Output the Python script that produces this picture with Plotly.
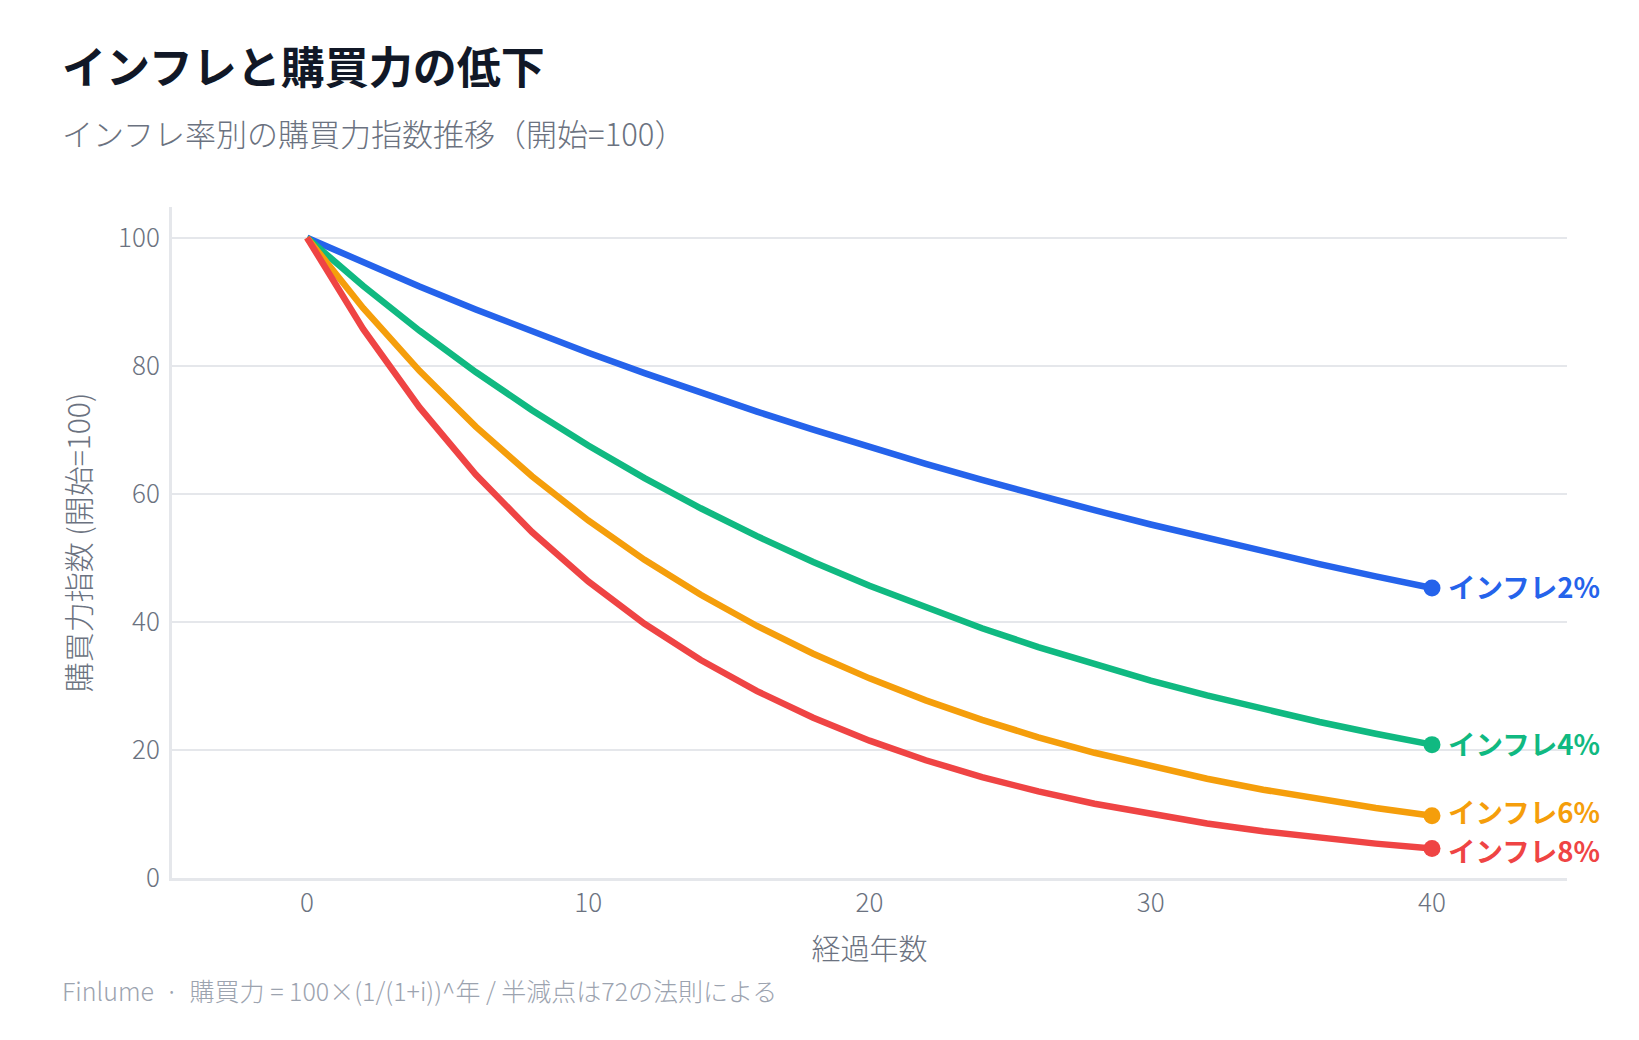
import plotly.graph_objects as go

years = [0, 2, 4, 6, 8, 10, 12, 14, 16, 18, 20, 22, 24, 26, 28, 30, 32, 34, 36, 38, 40]
infl_2 = [100, 96.12, 92.38, 88.80, 85.35, 82.03, 78.85, 75.79, 72.84, 70.02, 67.30,
          64.68, 62.17, 59.76, 57.44, 55.21, 53.06, 51.00, 49.02, 47.12, 45.29]
infl_4 = [100, 92.46, 85.48, 79.03, 73.07, 67.56, 62.46, 57.75, 53.39, 49.36, 45.64,
          42.20, 39.01, 36.07, 33.35, 30.83, 28.51, 26.36, 24.37, 22.53, 20.83]
infl_6 = [100, 89.00, 79.21, 70.50, 62.74, 55.84, 49.70, 44.23, 39.36, 35.03, 31.18,
          27.75, 24.70, 21.98, 19.56, 17.41, 15.50, 13.79, 12.27, 10.92, 9.72]
infl_8 = [100, 85.73, 73.50, 63.02, 54.03, 46.32, 39.71, 34.05, 29.19, 25.02, 21.45,
          18.39, 15.77, 13.52, 11.59, 9.94, 8.52, 7.30, 6.26, 5.37, 4.60]
series_names = ["インフレ2%", "インフレ4%", "インフレ6%", "インフレ8%"]
series_values = [infl_2, infl_4, infl_6, infl_8]
colors = ["#2563eb", "#10b981", "#f59e0b", "#ef4444"]
label_yshift = [2, 2, 5, -1]

FONT = "Noto Sans CJK JP"
LIGHT = 300
fig = go.Figure()

for name, vals, col in zip(series_names, series_values, colors):
    fig.add_trace(go.Scatter(x=years, y=vals, mode="lines", name=name,
                             line=dict(color=col, width=6.5), showlegend=False,
                             hoverinfo="skip"))
for name, vals, col, ys in zip(series_names, series_values, colors, label_yshift):
    fig.add_trace(go.Scatter(x=[years[-1]], y=[vals[-1]], mode="markers",
                             marker=dict(color=col, size=17), showlegend=False,
                             hoverinfo="skip"))
    fig.add_annotation(x=years[-1], y=vals[-1], xref="x", yref="y", text=f"<b>{name}</b>",
                       showarrow=False, xanchor="left", yanchor="middle", xshift=14, yshift=ys,
                       font=dict(family=FONT, size=27.5, color=col))

fig.add_annotation(xref="paper", yref="paper", x=-0.0805, y=1.212, text="<b>インフレと購買力の低下</b>",
                   showarrow=False, xanchor="left", yanchor="middle",
                   font=dict(family=FONT, size=44, color="#111827"))
fig.add_annotation(xref="paper", yref="paper", x=-0.0805, y=1.111, text="インフレ率別の購買力指数推移（開始=100）",
                   showarrow=False, xanchor="left", yanchor="middle",
                   font=dict(family=FONT, size=31, color="#6b7280", weight=LIGHT))
fig.add_annotation(xref="paper", yref="paper", x=-0.0805, y=-0.167,
                   text="Finlume&nbsp;&nbsp;·&nbsp;&nbsp;購買力 = 100×(1/(1+i))^年 / 半減点は72の法則による",
                   showarrow=False, xanchor="left", yanchor="middle",
                   font=dict(family=FONT, size=25, color="#9ca3af", weight=LIGHT))

fig.update_layout(
    width=1639, height=1040,
    margin=dict(l=172, r=72, t=207, b=162),
    paper_bgcolor="white", plot_bgcolor="white",
    font=dict(family=FONT, color="#6b7280", weight=LIGHT),
    xaxis=dict(range=[-4.8, 44.8], tickvals=[0, 10, 20, 30, 40], showgrid=False,
               zeroline=False, showline=True, linecolor="#e5e7eb", linewidth=3,
               tickfont=dict(family=FONT, size=26, color="#6b7280", weight=LIGHT),
               title=dict(text="経過年数", font=dict(family=FONT, size=29, color="#6b7280", weight=LIGHT),
                          standoff=22)),
    yaxis=dict(range=[0, 104.8], tickvals=[0, 20, 40, 60, 80, 100], showgrid=True,
               gridcolor="#e5e7eb", gridwidth=2, zeroline=False, showline=True,
               linecolor="#e5e7eb", linewidth=3,
               tickfont=dict(family=FONT, size=26, color="#6b7280", weight=LIGHT), ticklabelstandoff=4,
               title=dict(text="購買力指数 (開始=100)", font=dict(family=FONT, size=30, color="#6b7280", weight=LIGHT),
                          standoff=19)),
)

fig.write_html("out.html")
